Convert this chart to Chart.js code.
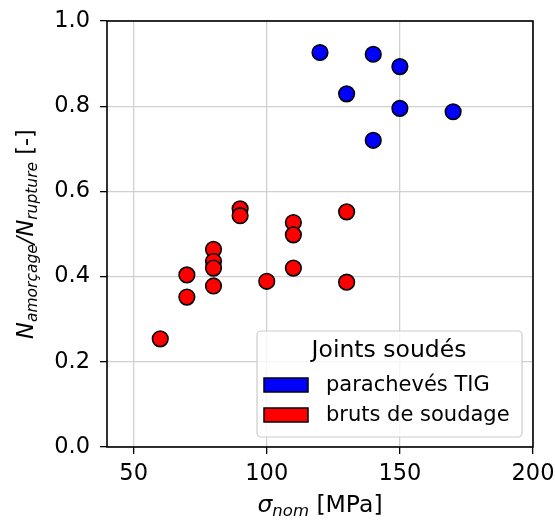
<!DOCTYPE html>
<html>
<head>
<meta charset="utf-8">
<script src="https://cdn.jsdelivr.net/npm/chart.js@4"></script>
<style>
  html, body { margin: 0; padding: 0; background: #fff; }
  #wrap { width: 555px; height: 522px; }
</style>
</head>
<body>
<div id="wrap"><canvas id="fatigueChart" width="555" height="522"></canvas></div>
<script>
// données
const tigStress = [120, 140, 150, 130, 150, 170, 140];
const tigRatio  = [0.926, 0.922, 0.893, 0.829, 0.795, 0.787, 0.720];

const rawStress = [90, 90, 130, 110, 110, 80, 80, 80, 70, 100, 110, 130, 80, 70, 60];
const rawRatio  = [0.559, 0.543, 0.552, 0.527, 0.498, 0.464, 0.436, 0.420, 0.404, 0.389, 0.420, 0.387, 0.378, 0.352, 0.254];

const seriesLabels = ['parachevés TIG', 'bruts de soudage'];
const seriesColors = ['#0000ff', '#ff0000'];
const legendTitle = 'Joints soudés';
const xTicks = [50, 100, 150, 200];
const yTicks = [0.0, 0.2, 0.4, 0.6, 0.8, 1.0];

const FONT = '"DejaVu Sans", sans-serif';

function toPoints(xs, ys) {
    return xs.map((x, i) => ({ x: x, y: ys[i] }));
}

// cadre, titres d'axes et légende dessinés à la main
const decorPlugin = {
    id: 'decor',
    afterDraw(chart) {
        const ctx = chart.ctx;
        const a = chart.chartArea;
        ctx.save();
        ctx.strokeStyle = '#000';
        ctx.lineWidth = 1.6;
        ctx.strokeRect(a.left, a.top, a.right - a.left, a.bottom - a.top);

        // titre x : sigma_nom [MPa]
        ctx.fillStyle = '#000';
        ctx.textBaseline = 'alphabetic';
        const cx = (a.left + a.right) / 2;
        const by = 512;
        const parts = [
            { t: 'σ', f: 'italic 23.5px ' + FONT, dy: 0 },
            { t: 'nom', f: 'italic 16.5px ' + FONT, dy: 4 },
            { t: ' [MPa]', f: '23.5px ' + FONT, dy: 0 }
        ];
        let w = 0;
        parts.forEach(p => { ctx.font = p.f; w += ctx.measureText(p.t).width; });
        let px = cx - w / 2;
        ctx.textAlign = 'left';
        parts.forEach(p => { ctx.font = p.f; ctx.fillText(p.t, px, by + p.dy); px += ctx.measureText(p.t).width; });

        // titre y : N_amorçage/N_rupture [-]
        const cy = (a.top + a.bottom) / 2;
        const yparts = [
            { t: 'N', f: 'italic 22.5px ' + FONT, dy: 0 },
            { t: 'amorçage', f: 'italic 15.5px ' + FONT, dy: 4 },
            { t: '/', f: 'italic 22.5px ' + FONT, dy: 0 },
            { t: 'N', f: 'italic 22.5px ' + FONT, dy: 0 },
            { t: 'rupture', f: 'italic 15.5px ' + FONT, dy: 4 },
            { t: ' [-]', f: '22.5px ' + FONT, dy: 0 }
        ];
        w = 0;
        yparts.forEach(p => { ctx.font = p.f; w += ctx.measureText(p.t).width; });
        ctx.translate(33, cy);
        ctx.rotate(-Math.PI / 2);
        px = -w / 2;
        yparts.forEach(p => { ctx.font = p.f; ctx.fillText(p.t, px, p.dy); px += ctx.measureText(p.t).width; });
        ctx.setTransform(1, 0, 0, 1, 0, 0);

        // légende
        const lx = 257, ly = 331, lw = 265, lh = 106;
        ctx.beginPath();
        ctx.roundRect(lx, ly, lw, lh, 4);
        ctx.fillStyle = 'rgba(255,255,255,0.8)';
        ctx.fill();
        ctx.strokeStyle = '#cccccc';
        ctx.lineWidth = 1.2;
        ctx.stroke();
        ctx.fillStyle = '#000';
        ctx.font = '23.5px ' + FONT;
        ctx.textAlign = 'center';
        ctx.textBaseline = 'middle';
        ctx.fillText(legendTitle, 389, 351);
        const rows = [385, 415];
        seriesLabels.forEach((lab, i) => {
            ctx.fillStyle = seriesColors[i];
            ctx.fillRect(264, rows[i] - 7, 44, 14);
            ctx.strokeStyle = '#000';
            ctx.lineWidth = 1.5;
            ctx.strokeRect(264, rows[i] - 7, 44, 14);
            ctx.fillStyle = '#000';
            ctx.font = '21px ' + FONT;
            ctx.textAlign = 'left';
            ctx.fillText(lab, 326, rows[i] + 1);
        });
        ctx.restore();
    }
};

const ctx = document.getElementById('fatigueChart').getContext('2d');
const fatigueChart = new Chart(ctx, {
    type: 'scatter',
    data: {
        datasets: [
            {
                label: seriesLabels[0],
                data: toPoints(tigStress, tigRatio),
                backgroundColor: seriesColors[0],
                borderColor: '#000',
                borderWidth: 1.6,
                pointRadius: 7.8,
                pointHoverRadius: 7.8
            },
            {
                label: seriesLabels[1],
                data: toPoints(rawStress, rawRatio),
                backgroundColor: seriesColors[1],
                borderColor: '#000',
                borderWidth: 1.6,
                pointRadius: 7.8,
                pointHoverRadius: 7.8
            }
        ]
    },
    options: {
        responsive: false,
        animation: false,
        layout: { padding: { top: 21, right: 22, left: 0, bottom: 0 } },
        plugins: {
            legend: { display: false },
            tooltip: { enabled: false }
        },
        scales: {
            x: {
                type: 'linear',
                min: 40,
                max: 200,
                afterBuildTicks: s => { s.ticks = xTicks.map(v => ({ value: v })); },
                afterFit: s => { s.height = 75; s.paddingLeft = 0; s.paddingRight = 0; },
                grid: { color: '#d0d0d0', lineWidth: 1.3, tickColor: '#000', tickLength: 7, drawTicks: true },
                border: { display: false },
                ticks: { color: '#000', font: { family: FONT, size: 22.5 }, padding: 7, maxRotation: 0 }
            },
            y: {
                type: 'linear',
                min: 0,
                max: 1,
                afterBuildTicks: s => { s.ticks = yTicks.map(v => ({ value: v })); },
                afterFit: s => { s.width = 107; s.paddingTop = 0; s.paddingBottom = 0; },
                grid: { color: '#d0d0d0', lineWidth: 1.3, tickColor: '#000', tickLength: 7, drawTicks: true },
                border: { display: false },
                ticks: {
                    color: '#000',
                    font: { family: FONT, size: 22.5 },
                    padding: 10,
                    callback: v => v.toFixed(1)
                }
            }
        }
    },
    plugins: [decorPlugin]
});
</script>
</body>
</html>
